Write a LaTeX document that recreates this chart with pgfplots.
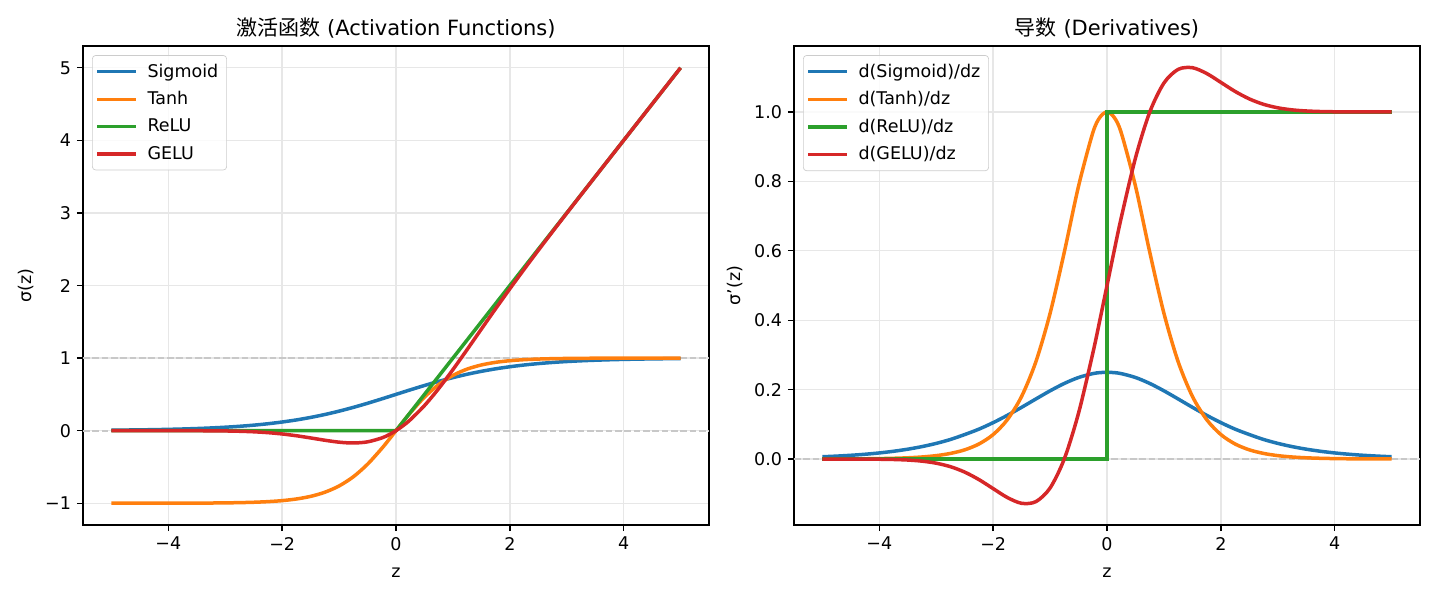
\documentclass[border=0pt]{standalone}
\usepackage{fontspec}
\setmainfont{DejaVu Sans}
\newfontfamily\cjk{Noto Sans CJK SC}
\usepackage{pgfplots}
\usepackage{pgfplotstable}
\pgfplotsset{compat=1.18}
\definecolor{c1}{HTML}{1F77B4}
\definecolor{c2}{HTML}{FF7F0E}
\definecolor{c3}{HTML}{2CA02C}
\definecolor{c4}{HTML}{D62728}
\definecolor{gridc}{HTML}{E7E7E7}
\definecolor{legc}{HTML}{CCCCCC}
\definecolor{dashc}{HTML}{C8C8C8}

\pgfplotstableread{
z sig tanh gelu
-5 0.006693 -0.999909 -0.0000015
-4.75 0.008577 -0.999850 -0.000005
-4.5 0.010987 -0.999753 -0.000015
-4.25 0.014064 -0.999593 -0.000047
-4 0.017986 -0.999329 -0.000127
-3.75 0.022977 -0.998894 -0.000330
-3.5 0.029312 -0.998178 -0.000815
-3.25 0.037327 -0.996998 -0.001875
-3 0.047426 -0.995055 -0.004050
-2.75 0.060087 -0.991815 -0.008195
-2.5 0.075858 -0.986614 -0.015525
-2.25 0.095349 -0.978026 -0.027504
-2 0.119203 -0.964028 -0.045500
-1.75 0.148047 -0.941376 -0.070103
-1.5 0.182426 -0.905148 -0.100211
-1.25 0.222700 -0.848284 -0.132063
-1 0.268941 -0.761594 -0.158655
-0.75 0.320821 -0.635149 -0.169970
-0.5 0.377541 -0.462117 -0.154269
-0.25 0.437823 -0.244919 -0.100324
-0.125 0.468791 -0.124353 -0.056283
0 0.5 0 0
0.125 0.531209 0.124353 0.068717
0.25 0.562177 0.244919 0.149677
0.5 0.622459 0.462117 0.345731
0.75 0.679179 0.635149 0.580030
1 0.731059 0.761594 0.841345
1.25 0.777300 0.848284 1.117938
1.5 0.817574 0.905148 1.399790
1.75 0.851953 0.941376 1.679897
2 0.880797 0.964028 1.954500
2.25 0.904651 0.978026 2.222496
2.5 0.924142 0.986614 2.484475
2.75 0.939913 0.991815 2.741805
3 0.952574 0.995055 2.995950
3.25 0.962673 0.996998 3.248125
3.5 0.970688 0.998178 3.499185
3.75 0.977023 0.998894 3.749670
4 0.982014 0.999329 3.999872
4.25 0.985936 0.999593 4.249953
4.5 0.989013 0.999753 4.499985
4.75 0.991423 0.999850 4.749995
5 0.993307 0.999909 4.999999
}\acttable

\pgfplotstableread{
z dsig dtanh dgelu
-5 0.006648 0.000182 -0.000007
-4.75 0.008503 0.000300 -0.000023
-4.5 0.010866 0.000494 -0.000069
-4.25 0.013866 0.000813 -0.000192
-4 0.017663 0.001341 -0.000504
-3.75 0.022449 0.002211 -0.001236
-3.5 0.028453 0.003641 -0.002823
-3.25 0.035934 0.005996 -0.006017
-3 0.045177 0.009866 -0.011946
-2.75 0.056477 0.016303 -0.022029
-2.5 0.070651 0.026592 -0.037610
-2.25 0.086258 0.043465 -0.059191
-2 0.104994 0.070651 -0.085232
-1.75 0.126129 0.113811 -0.110926
-1.5 0.149146 0.180707 -0.127470
-1.25 0.173105 0.280414 -0.122661
-1 0.196612 0.419974 -0.083316
-0.75 0.217895 0.596586 0.000774
-0.5 0.235004 0.786448 0.132505
-0.25 0.246134 0.940015 0.304627
-0.125 0.249026 0.984536 0.400782
0 0.25 1 0.5
0.125 0.249026 0.984536 0.599218
0.25 0.246134 0.940015 0.695373
0.5 0.235004 0.786448 0.867495
0.75 0.217895 0.596586 0.999226
1 0.196612 0.419974 1.083316
1.25 0.173105 0.280414 1.122661
1.5 0.149146 0.180707 1.127470
1.75 0.126129 0.113811 1.110926
2 0.104994 0.070651 1.085232
2.25 0.086258 0.043465 1.059191
2.5 0.070651 0.026592 1.037610
2.75 0.056477 0.016303 1.022029
3 0.045177 0.009866 1.011946
3.25 0.035934 0.005996 1.006017
3.5 0.028453 0.003641 1.002823
3.75 0.022449 0.002211 1.001236
4 0.017663 0.001341 1.000504
4.25 0.013866 0.000813 1.000192
4.5 0.010866 0.000494 1.000069
4.75 0.008503 0.000300 1.000023
5 0.006648 0.000182 1.000007
}\dertable

\pgfplotsset{
  mystyle/.style={
    scale only axis, width=375.6pt, height=287.4pt,
    anchor=south west,
    xmin=-5.5, xmax=5.5,
    xtick={-4,-2,0,2,4}, xticklabels={−4,−2,0,2,4},
    xtick pos=bottom, ytick pos=left,
    tick align=outside, major tick length=3.7pt,
    every tick/.style={black, line width=0.84pt},
    axis line style={line width=0.84pt},
    grid=major, major grid style={color=gridc, line width=0.84pt},
    ticklabel style={font=\fontsize{10.5}{12.6}\selectfont},
    label style={font=\fontsize{10.5}{12.6}\selectfont},
    xlabel style={yshift=-3.5pt},
    title style={font=\fontsize{12.6}{15}\selectfont, yshift=-5pt},
    xlabel={z},
    legend style={at={(0.0144,0.981)}, anchor=north west, draw=legc, rounded corners=2pt,
      fill=white, fill opacity=0.8, text opacity=1, font=\fontsize{10.5}{12.6}\selectfont,
      row sep=3.1pt, column sep=5pt, inner xsep=3pt, inner ysep=3pt},
    legend cell align=left,
    legend image code/.code={\draw[#1, line cap=rect] (0pt,0pt) -- (21pt,0pt);},
    every axis plot/.append style={line width=2.1pt},
  },
  refline/.style={dashc, line width=1.05pt, dash pattern=on 3.9pt off 1.7pt, forget plot},
}

\begin{document}
\begin{tikzpicture}
\path (0,0) rectangle (864pt,360pt);
\begin{axis}[mystyle, at={(49.8pt,45pt)},
  ymin=-1.3, ymax=5.3,
  ytick={-1,0,1,2,3,4,5}, yticklabels={−1,0,1,2,3,4,5},
  ylabel={σ(z)},
  title={{\cjk 激活函数} (Activation Functions)}]
\addplot[refline] coordinates {(-5.5,0) (5.5,0)};
\addplot[refline] coordinates {(-5.5,1) (5.5,1)};
\addplot[c1, smooth] table[x=z, y=sig] {\acttable};
\addlegendentry{Sigmoid}
\addplot[c2, smooth] table[x=z, y=tanh] {\acttable};
\addlegendentry{Tanh}
\addplot[c3] coordinates {(-5,0) (0,0) (5,5)};
\addlegendentry{ReLU}
\addplot[c4, smooth] table[x=z, y=gelu] {\acttable};
\addlegendentry{GELU}
\end{axis}
\begin{axis}[mystyle, at={(476.4pt,45pt)},
  ymin=-0.19, ymax=1.19,
  ytick={0,0.2,0.4,0.6,0.8,1.0}, yticklabels={0.0,0.2,0.4,0.6,0.8,1.0},
  ylabel={σ'(z)},
  title={{\cjk 导数} (Derivatives)}]
\addplot[refline] coordinates {(-5.5,0) (5.5,0)};
\addplot[c1, smooth] table[x=z, y=dsig] {\dertable};
\addlegendentry{d(Sigmoid)/dz}
\addplot[c2, smooth] table[x=z, y=dtanh] {\dertable};
\addlegendentry{d(Tanh)/dz}
\addplot[c3] coordinates {(-5,0) (0,0) (0,1) (5,1)};
\addlegendentry{d(ReLU)/dz}
\addplot[c4, smooth] table[x=z, y=dgelu] {\dertable};
\addlegendentry{d(GELU)/dz}
\end{axis}
\end{tikzpicture}
\end{document}
